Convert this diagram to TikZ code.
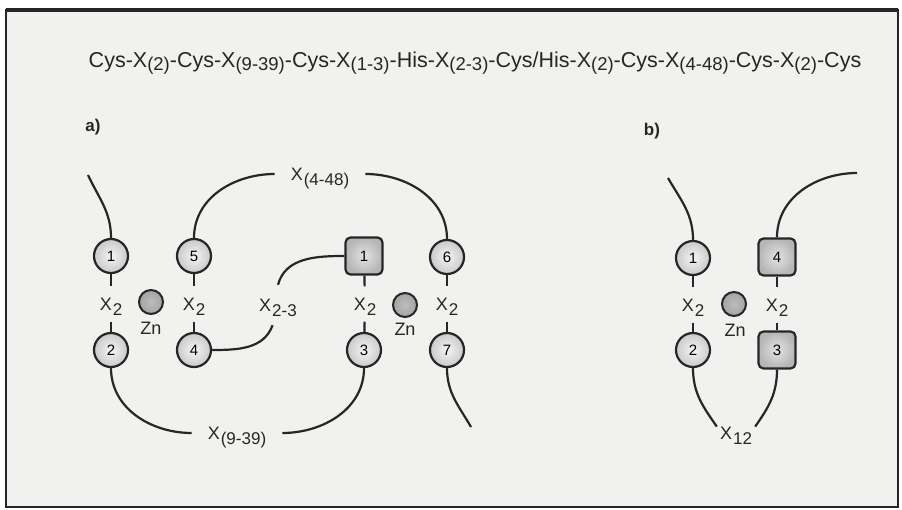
\documentclass[tikz,border=0pt]{standalone}
\usepackage{fontspec}
\setmainfont{Liberation Sans}
\newcommand{\fs}[1]{\fontsize{#1}{#1}\selectfont}
\newcommand{\lsub}[1]{\smash{\raisebox{-5.5pt}{\fs{17}#1}}}
\newcommand{\tsub}[1]{\raisebox{-3.5pt}{\fs{18.5}#1}}
\definecolor{paper}{HTML}{F1F1EF}
\definecolor{ink}{HTML}{262626}
\tikzset{
  conn/.style={line width=2.2pt, draw=ink},
  cnode/.style={circle, draw=ink, line width=2.2pt, minimum size=34pt, inner sep=0pt,
    inner color=gray!8, outer color=gray!42, font=\fs{15}},
  snode/.style={rectangle, rounded corners=5pt, draw=ink, line width=2.2pt, minimum size=37pt,
    inner sep=0pt, inner color=gray!22, outer color=gray!58, font=\fs{15}},
  znode/.style={circle, draw=ink, line width=2pt, minimum size=24pt, inner sep=0pt,
    inner color=gray!52, outer color=gray!72},
  lab/.style={inner sep=0pt, font=\fs{18}, text=ink},
  xtwo/.style={lab, minimum height=35pt},
  panel/.style={inner sep=0pt, font=\fs{17}\bfseries, text=ink},
}
\begin{document}
\begin{tikzpicture}[x=1pt,y=-1pt]
\useasboundingbox (0,0) rectangle (902,510);
\fill[white] (0,0) rectangle (902,510);
\fill[paper] (6,10) rectangle (898,507);
\draw[line width=2pt, draw=ink] (6,10) rectangle (898,507);
\draw[line width=3.5pt, draw=ink] (6,10) -- (898,10);

% title
\node[lab, font=\fs{21.5}, anchor=base] (title) at (475,67.5)
 {Cys-X\tsub{(2)}-Cys-X\tsub{(9-39)}-Cys-X\tsub{(1-3)}-His-X\tsub{(2-3)}-Cys/His-X\tsub{(2)}-Cys-X\tsub{(4-48)}-Cys-X\tsub{(2)}-Cys};

\node[panel] (pa) at (93,127) {a)};
\node[panel] (pb) at (652,131) {b)};

% ---------- panel a ----------
\node[cnode] (c1a) at (111,256) {1};
\node[cnode] (c5a) at (194,256) {5};
\node[snode] (s1a) at (364,256) {1};
\node[cnode] (c6a) at (447,257) {6};
\node[cnode] (c2a) at (111,350) {2};
\node[cnode] (c4a) at (194,350) {4};
\node[cnode] (c3a) at (364,350) {3};
\node[cnode] (c7a) at (447,350) {7};

\node[xtwo] (x1a) at (111,304) {X\kern1pt\lsub{2}};
\node[xtwo] (x2a) at (194,304) {X\kern1pt\lsub{2}};
\node[xtwo] (x3a) at (365,304) {X\kern1pt\lsub{2}};
\node[xtwo] (x4a) at (447,304) {X\kern1pt\lsub{2}};

\node[znode] (zn1) at (151,302) {};
\node[lab] (znl1) at (151,328) {Zn};
\node[znode] (zn2) at (405,305) {};
\node[lab] (znl2) at (405,329) {Zn};

\node[lab, inner xsep=16pt] (x448) at (320,174) {X\kern1pt\lsub{(4-48)}};
\node[lab, inner xsep=16pt] (x939) at (237,433) {X\kern1pt\lsub{(9-39)}};
\node[lab, minimum height=40pt] (x23) at (278,305) {X\kern1pt\lsub{2-3}};

\coordinate (t1a) at (88,175);
\coordinate (t7a) at (471,427);

\draw[conn] (c1a) -- (x1a) -- (c2a);
\draw[conn] (c5a) -- (x2a) -- (c4a);
\draw[conn] (s1a) -- (x3a) -- (c3a);
\draw[conn] (c6a) -- (x4a) -- (c7a);

\draw[conn] (c1a.north) to[out=90,in=-65] (t1a);
\draw[conn] (c5a.north) to[out=90,in=180] (x448.west);
\draw[conn] (x448.east) to[out=0,in=90] (c6a.north);
\draw[conn] (s1a.west) to[out=180,in=75] (x23.north);
\draw[conn] (c4a.east) to[out=0,in=-110] (x23.-105);
\draw[conn] (c2a.south) to[out=-90,in=180] (x939.west);
\draw[conn] (x939.east) to[out=0,in=-90] (c3a.south);
\draw[conn] (c7a.south) to[out=-90,in=120] (t7a);

% ---------- panel b ----------
\node[cnode] (c1b) at (693,258) {1};
\node[snode] (s4b) at (777,257) {4};
\node[cnode] (c2b) at (693,350) {2};
\node[snode] (s3b) at (777,350) {3};

\node[xtwo] (x1b) at (693,305) {X\kern1pt\lsub{2}};
\node[xtwo] (x2b) at (777,305) {X\kern1pt\lsub{2}};

\node[znode] (zn3) at (734,304) {};
\node[lab] (znl3) at (735,330) {Zn};

\node[lab, inner xsep=3pt] (x12) at (736,433) {X\kern1pt\lsub{12}};

\coordinate (t1b) at (668,178);
\coordinate (t4b) at (857,173);

\draw[conn] (c1b) -- (x1b) -- (c2b);
\draw[conn] (s4b) -- (x2b) -- (s3b);
\draw[conn] (c1b.north) to[out=90,in=-60] (t1b);
\draw[conn] (s4b.north) to[out=90,in=180] (t4b);
\draw[conn] (c2b.south) to[out=-90,in=125] (x12.north west);
\draw[conn] (x12.north east) to[out=55,in=-90] (s3b.south);
\end{tikzpicture}
\end{document}
